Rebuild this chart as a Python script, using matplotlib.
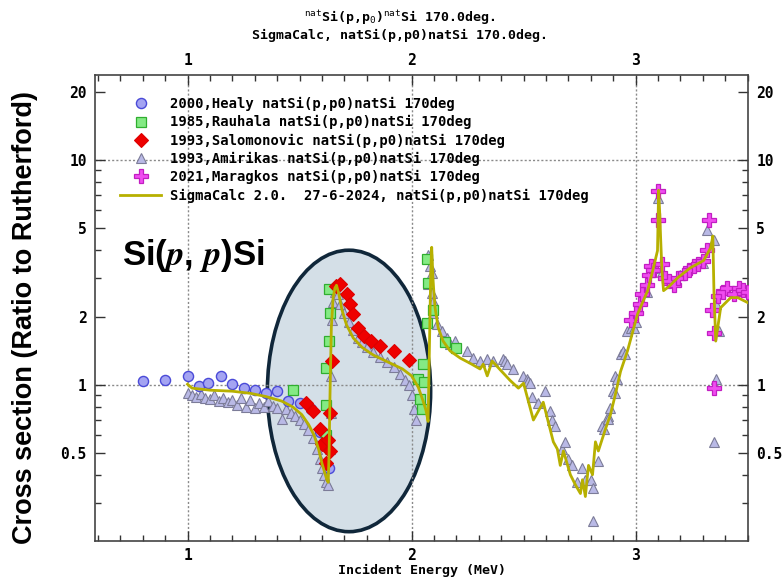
import matplotlib
matplotlib.use("Agg")
import matplotlib.pyplot as plt
from matplotlib.patches import Ellipse
from matplotlib.ticker import FixedLocator, MultipleLocator, FixedFormatter, NullFormatter

# ---- measured cross sections: (incident energy MeV, ratio to Rutherford) ----
healy = [(0.80, 1.04), (0.90, 1.05), (1.00, 1.10), (1.05, 0.99), (1.09, 1.02),
         (1.15, 1.10), (1.20, 1.01), (1.25, 0.97), (1.30, 0.95), (1.35, 0.92),
         (1.40, 0.94), (1.45, 0.85), (1.50, 0.83), (1.55, 0.78), (1.59, 0.62),
         (1.63, 0.43)]

rauhala = [(1.47, 0.95), (1.62, 0.60), (1.62, 0.82), (1.62, 1.19), (1.63, 1.57),
           (1.635, 2.10), (1.63, 2.68), (2.03, 1.07), (2.04, 0.87), (2.045, 0.78),
           (2.05, 1.24), (2.055, 1.03), (2.07, 1.89), (2.075, 2.85), (2.07, 3.65),
           (2.095, 2.15), (2.15, 1.55), (2.20, 1.46)]

salomonovic = [(1.53, 0.83), (1.56, 0.77), (1.59, 0.64), (1.60, 0.55), (1.62, 0.45),
               (1.625, 0.57), (1.635, 0.51), (1.635, 0.75), (1.645, 1.28), (1.665, 2.77),
               (1.68, 2.83), (1.71, 2.55), (1.725, 2.30), (1.74, 2.07), (1.76, 1.80),
               (1.79, 1.65), (1.82, 1.57), (1.86, 1.49), (1.92, 1.42), (1.99, 1.29)]

amirikas = [(1.00, 0.92), (1.02, 0.90), (1.04, 0.89), (1.06, 0.91), (1.08, 0.88),
            (1.10, 0.87), (1.12, 0.90), (1.14, 0.85), (1.16, 0.88), (1.18, 0.84),
            (1.20, 0.86), (1.22, 0.82), (1.24, 0.88), (1.26, 0.80), (1.28, 0.86),
            (1.30, 0.79), (1.32, 0.83), (1.34, 0.80), (1.36, 0.85), (1.38, 0.81),
            (1.40, 0.79), (1.42, 0.71), (1.44, 0.78), (1.46, 0.75), (1.48, 0.73),
            (1.50, 0.70), (1.52, 0.67), (1.54, 0.63), (1.56, 0.58), (1.58, 0.52),
            (1.59, 0.47), (1.60, 0.43), (1.61, 0.40), (1.62, 0.37), (1.625, 0.36),
            (1.635, 0.52), (1.64, 0.75), (1.64, 1.10), (1.645, 1.95), (1.65, 2.35),
            (1.66, 2.60), (1.67, 2.55), (1.68, 2.30), (1.70, 2.10), (1.72, 1.90),
            (1.74, 1.75), (1.76, 1.62), (1.78, 1.55), (1.80, 1.48), (1.83, 1.40),
            (1.86, 1.33), (1.89, 1.27), (1.92, 1.20), (1.95, 1.12), (1.97, 1.05),
            (1.99, 1.00), (2.00, 0.90), (2.01, 0.78), (2.02, 0.70),
            (2.074, 3.77), (2.083, 3.39), (2.092, 3.16), (2.074, 2.82), (2.092, 2.58),
            (2.095, 2.37), (2.098, 2.10), (2.114, 1.87), (2.136, 1.74), (2.159, 1.62),
            (2.172, 1.52), (2.195, 1.57), (2.248, 1.42), (2.275, 1.32), (2.306, 1.28),
            (2.338, 1.31), (2.365, 1.28), (2.409, 1.31), (2.418, 1.28), (2.427, 1.24),
            (2.454, 1.18), (2.499, 1.10), (2.517, 1.07), (2.521, 1.04), (2.530, 1.02),
            (2.539, 0.89), (2.566, 0.83), (2.597, 0.94), (2.620, 0.77), (2.629, 0.70),
            (2.642, 0.66), (2.673, 0.52), (2.687, 0.56), (2.700, 0.47), (2.718, 0.44),
            (2.740, 0.37), (2.763, 0.43), (2.776, 0.38), (2.800, 0.38), (2.812, 0.35),
            (2.810, 0.25), (2.834, 0.46), (2.852, 0.66), (2.857, 0.64), (2.875, 0.73),
            (2.879, 0.71), (2.888, 0.79), (2.900, 0.94), (2.910, 0.92), (2.910, 1.10),
            (2.919, 1.07), (2.933, 1.37), (2.942, 1.42), (2.955, 1.37), (2.964, 1.74),
            (2.978, 1.80), (2.991, 1.80), (3.000, 1.90), (3.050, 2.60), (3.080, 3.30),
            (3.100, 6.76), (3.120, 3.20), (3.200, 3.10), (3.300, 3.50), (3.320, 4.87),
            (3.349, 4.40), (3.371, 1.74), (3.358, 1.06), (3.349, 0.56), (3.360, 2.30)]

maragkos = [(2.98, 1.95), (3.00, 2.10), (3.02, 2.30), (3.03, 2.55), (3.05, 2.80),
            (3.06, 3.10), (3.07, 3.40), (3.08, 3.25), (3.10, 7.30), (3.10, 5.40),
            (3.12, 3.45), (3.13, 3.00), (3.15, 2.90), (3.17, 2.80), (3.19, 3.00),
            (3.22, 3.15), (3.24, 3.25), (3.26, 3.40), (3.28, 3.45), (3.30, 3.55),
            (3.32, 4.00), (3.33, 5.40), (3.34, 2.15), (3.35, 1.70), (3.35, 0.97),
            (3.37, 2.50), (3.39, 2.60), (3.41, 2.70), (3.44, 2.55), (3.46, 2.70),
            (3.48, 2.65), (3.50, 2.60)]

# ---- evaluated curve ----
sigmacalc = [(1.00, 1.01), (1.02, 0.97), (1.10, 0.95), (1.20, 0.94), (1.28, 0.92),
             (1.35, 0.89), (1.42, 0.85), (1.47, 0.80), (1.51, 0.74), (1.54, 0.67),
             (1.565, 0.60), (1.585, 0.52), (1.60, 0.45), (1.612, 0.41), (1.622, 0.38),
             (1.628, 0.37), (1.632, 0.50), (1.636, 0.90), (1.642, 1.80), (1.65, 2.45),
             (1.658, 2.70), (1.665, 2.78), (1.675, 2.55), (1.69, 2.15), (1.71, 1.85),
             (1.74, 1.62), (1.78, 1.47), (1.83, 1.36), (1.90, 1.26), (1.96, 1.18),
             (2.00, 1.10), (2.03, 0.98), (2.05, 0.86), (2.065, 0.77), (2.074, 0.69),
             (2.080, 1.50), (2.086, 3.20), (2.090, 4.10), (2.096, 2.91), (2.105, 2.21),
             (2.119, 1.80), (2.141, 1.57), (2.172, 1.42), (2.217, 1.32), (2.262, 1.25),
             (2.306, 1.18), (2.320, 1.24), (2.338, 1.10), (2.360, 1.28), (2.396, 1.17),
             (2.440, 1.05), (2.477, 0.97), (2.500, 1.02), (2.544, 0.70), (2.588, 0.84),
             (2.633, 0.56), (2.651, 0.52), (2.664, 0.44), (2.678, 0.51), (2.709, 0.40),
             (2.732, 0.36), (2.754, 0.33), (2.763, 0.38), (2.776, 0.32), (2.790, 0.44),
             (2.808, 0.40), (2.821, 0.56), (2.834, 0.51), (2.866, 0.64), (2.888, 0.74),
             (2.910, 0.91), (2.933, 1.15), (2.964, 1.42), (3.009, 2.07), (3.054, 2.63),
             (3.080, 3.33), (3.098, 3.96), (3.103, 7.35), (3.108, 5.80), (3.112, 4.50),
             (3.118, 3.20), (3.125, 2.63), (3.150, 2.75), (3.188, 3.00), (3.246, 3.33),
             (3.304, 3.58), (3.336, 4.09), (3.345, 4.60), (3.350, 2.60), (3.358, 1.57),
             (3.380, 2.21), (3.425, 2.45), (3.456, 2.45), (3.500, 2.33)]

legend_labels = ["2000,Healy natSi(p,p0)natSi 170deg",
                 "1985,Rauhala natSi(p,p0)natSi 170deg",
                 "1993,Salomonovic natSi(p,p0)natSi 170deg",
                 "1993,Amirikas natSi(p,p0)natSi 170deg",
                 "2021,Maragkos natSi(p,p0)natSi 170deg",
                 "SigmaCalc 2.0.  27-6-2024, natSi(p,p0)natSi 170deg"]

x_major = [1, 2, 3]
y_major = [0.5, 1, 2, 5, 10, 20]
y_major_labels = ["0.5", "1", "2", "5", "10", "20"]
y_minor = [0.3, 0.4, 0.6, 0.7, 0.8, 0.9, 3, 4, 6, 7, 8, 9]

MONO = "DejaVu Sans Mono"


def cols(pairs):
    return [p[0] for p in pairs], [p[1] for p in pairs]


fig = plt.figure(figsize=(7.83, 5.82), dpi=100)
ax = fig.add_axes([95 / 783, 1 - 541 / 582, 653 / 783, 466 / 582])
ax.set_yscale("log")
ax.set_xlim(0.587, 3.502)
ax.set_ylim(0.203, 23.9)

# highlighted resonance region
ax.add_patch(Ellipse((0.389, 0.322), 0.250, 0.604, transform=ax.transAxes,
                     facecolor="#d4dfe7", edgecolor="#10273a", lw=2.6, zorder=1))

# dotted grid at the decades and whole MeV
for xv in x_major:
    ax.axvline(xv, color="#8a8a8a", lw=1.0, ls=(0, (1.5, 1.5)), zorder=1.5)
for yv in (1, 10):
    ax.axhline(yv, color="#8a8a8a", lw=1.0, ls=(0, (1.5, 1.5)), zorder=1.5)

e, r = cols(amirikas)
ax.plot(e, r, ls="none", marker="^", ms=7.8, mfc="#b9b9e6", mec="#7c7c98", mew=0.8,
        zorder=3, label=legend_labels[3])
e, r = cols(healy)
ax.plot(e, r, ls="none", marker="o", ms=7.3, mfc="#a4a4f2", mec="#4a4ad8", mew=1.0,
        zorder=4, label=legend_labels[0])
e, r = cols(rauhala)
ax.plot(e, r, ls="none", marker="s", ms=6.5, mfc="#84ea84", mec="#2fae2f", mew=0.9,
        zorder=4, label=legend_labels[1])
e, r = cols(salomonovic)
ax.plot(e, r, ls="none", marker="D", ms=7.3, mfc="#ee0000", mec="#dd0000", mew=0.8,
        zorder=5, label=legend_labels[2])
e, r = cols(maragkos)
ax.plot(e, r, ls="none", marker="P", ms=10.5, mfc="#f04cf0", mec="#c21ec2", mew=0.9,
        zorder=5, label=legend_labels[4])
e, r = cols(sigmacalc)
ax.plot(e, r, color="#b7b000", lw=2.0, zorder=6, label=legend_labels[5])

handles, labels = ax.get_legend_handles_labels()
order = [legend_labels.index(l) for l in labels]
hl = sorted(zip(order, handles, labels))
leg = ax.legend([h for _, h, _ in hl], [l for _, _, l in hl], loc="upper left",
                bbox_to_anchor=(0.038, 0.953), frameon=False, borderpad=0,
                borderaxespad=0, handlelength=3.0, handletextpad=0.6,
                labelspacing=0.30, prop={"family": MONO, "weight": "bold", "size": 10})

ax.text(0.0413, 0.592, r"Si($\mathbfit{p}$, $\mathbfit{p}$)Si", transform=ax.transAxes,
        fontsize=25, fontweight="bold", family="Liberation Sans", math_fontfamily="stix",
        va="baseline", ha="left", zorder=7)

# ticks on all four sides, pointing inwards
ax.xaxis.set_major_locator(FixedLocator(x_major))
ax.xaxis.set_minor_locator(MultipleLocator(0.1))
ax.yaxis.set_major_locator(FixedLocator(y_major))
ax.yaxis.set_major_formatter(FixedFormatter(y_major_labels))
ax.yaxis.set_minor_locator(FixedLocator(y_minor))
ax.yaxis.set_minor_formatter(NullFormatter())
ax.tick_params(which="both", direction="in", top=True, right=True,
               labeltop=True, labelright=True, width=1.0, color="#333333")
ax.tick_params(which="major", length=7, pad=6)
ax.tick_params(which="minor", length=4)
ax.tick_params(axis="x", which="major", pad=5)
for lab in ax.get_xticklabels() + ax.get_yticklabels():
    lab.set_family(MONO)
    lab.set_fontweight("bold")
    lab.set_fontsize(10.5)
for s in ax.spines.values():
    s.set_color("#444444")
    s.set_linewidth(1.2)

ax.set_xlabel("Incident Energy (MeV)", family=MONO, fontweight="bold", fontsize=9.5,
              labelpad=1)

fig.text(400 / 783, 1 - 18 / 582,
         r"$^{\mathtt{nat}}$Si(p,p$_{\mathtt{0}}$)$^{\mathtt{nat}}$Si 170.0deg.",
         family=MONO, fontweight="bold", fontsize=9.5, ha="center", va="center")
fig.text(400 / 783, 1 - 35 / 582, "SigmaCalc, natSi(p,p0)natSi 170.0deg.",
         family=MONO, fontweight="bold", fontsize=9.5, ha="center", va="center")

fig.text(25 / 783, 1 - 317 / 582, "Cross section (Ratio to Rutherford)", rotation=90,
         family="Liberation Sans", fontweight="bold", fontsize=19.5, ha="center", va="center")

fig.savefig("out.png", dpi=100, facecolor="white")
